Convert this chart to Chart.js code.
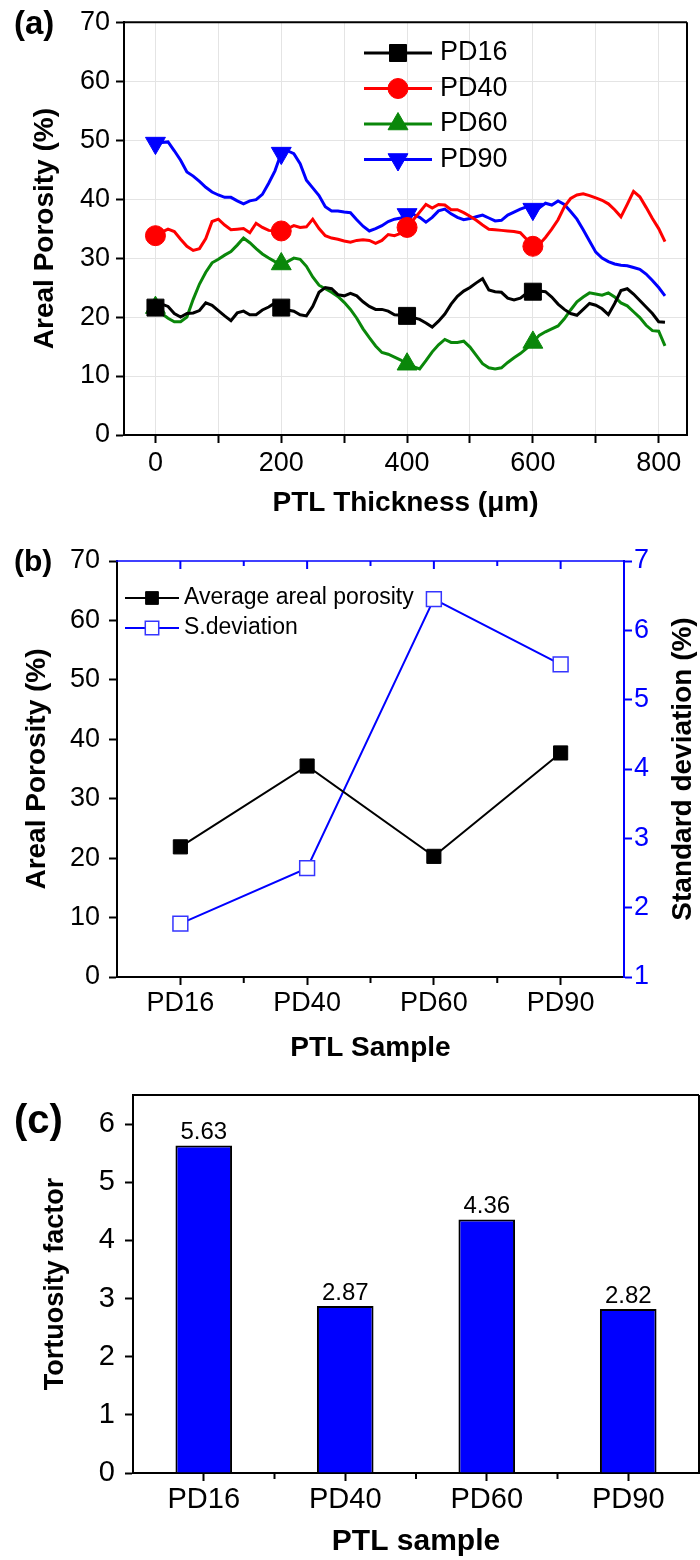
<!DOCTYPE html>
<html>
<head>
<meta charset="utf-8">
<script src="https://cdn.jsdelivr.net/npm/chart.js@4.4.1/dist/chart.umd.min.js"></script>
<style>
  html, body { margin: 0; padding: 0; background: #fff; }
  canvas { display: block; }
</style>
</head>
<body>
<canvas id="porosity" width="700" height="520"></canvas>
<canvas id="average" width="700" height="545"></canvas>
<canvas id="tortuosity" width="700" height="495"></canvas>
<script>
// ---- data ----
const thickness = [
    0, 10, 20, 30, 40, 50, 60, 70, 80, 90,
    100, 110, 120, 130, 140, 150, 160, 170, 180, 190,
    200, 210, 220, 230, 240, 250, 260, 270, 280, 290,
    300, 310, 320, 330, 340, 350, 360, 370, 380, 390,
    400, 410, 420, 430, 440, 450, 460, 470, 480, 490,
    500, 510, 520, 530, 540, 550, 560, 570, 580, 590,
    600, 610, 620, 630, 640, 650, 660, 670, 680, 690,
    700, 710, 720, 730, 740, 750, 760, 770, 780, 790,
    800, 810
];
const markerAt = [0, 200, 400, 600];
const thicknessTicks = [0, 100, 200, 300, 400, 500, 600, 700, 800];

const pd16 = [
    21.6, 22.2, 21.8, 20.6, 20.0, 20.6, 20.7, 21.1, 22.4, 22.0,
    21.1, 20.2, 19.4, 20.7, 21.0, 20.4, 20.4, 21.2, 21.7, 22.4,
    21.6, 21.2, 21.0, 20.4, 20.2, 21.8, 24.2, 25.0, 24.8, 23.8,
    23.6, 24.0, 23.6, 22.6, 21.8, 21.3, 21.3, 21.0, 20.4, 20.3,
    20.2, 19.9, 19.6, 19.0, 18.3, 19.3, 20.5, 22.2, 23.5, 24.4,
    25.0, 25.8, 26.5, 24.6, 24.3, 24.2, 23.2, 22.9, 23.2, 24.0,
    24.3, 24.4, 24.3, 23.4, 22.2, 21.3, 20.6, 20.3, 21.3, 22.3,
    22.0, 21.4, 20.4, 22.3, 24.5, 24.8, 23.9, 22.8, 21.7, 20.6,
    19.2, 19.1
];
const pd40 = [
    33.8, 34.4, 34.9, 34.5, 33.2, 32.0, 31.3, 31.6, 33.3, 36.2,
    36.6, 35.6, 34.8, 34.9, 35.0, 34.3, 35.9, 35.2, 34.7, 34.6,
    34.6, 35.0, 35.5, 35.2, 35.3, 36.6, 35.0, 33.8, 33.4, 33.2,
    32.9, 32.7, 33.0, 33.1, 33.0, 32.5, 33.0, 34.0, 33.8, 34.2,
    35.2, 36.5, 37.8, 39.1, 38.5, 39.1, 39.0, 38.2, 38.2, 37.7,
    37.1, 36.4, 35.6, 34.9, 34.8, 34.7, 34.6, 34.5, 34.3, 33.2,
    32.0, 32.3, 33.5, 34.9, 36.5, 38.7, 40.1, 40.7, 40.9, 40.6,
    40.2, 39.8, 39.2, 38.2, 37.0, 39.1, 41.3, 40.4, 38.6, 36.7,
    35.0, 32.8
];
const pd60 = [
    21.6, 20.6, 19.8, 19.2, 19.2, 20.0, 23.0, 25.6, 27.6, 29.2,
    29.8, 30.5, 31.1, 32.2, 33.4, 32.6, 31.6, 30.7, 30.0, 29.4,
    29.0, 29.4, 30.0, 29.8, 28.6, 26.8, 25.4, 24.8, 24.2, 23.5,
    22.5, 21.3, 19.8, 18.0, 16.5, 15.1, 14.0, 13.7, 13.2, 12.7,
    12.0, 11.6, 11.2, 12.6, 14.1, 15.3, 16.2, 15.7, 15.7, 15.9,
    14.9, 13.5, 12.1, 11.4, 11.2, 11.4, 12.3, 13.1, 13.8, 14.7,
    15.7, 16.9, 17.5, 18.0, 18.5, 19.7, 21.2, 22.6, 23.4, 24.1,
    23.9, 23.7, 24.1, 23.4, 22.4, 21.9, 20.9, 19.9, 18.6, 17.7,
    17.6, 15.1
];
const pd90 = [
    49.5, 49.6, 49.7, 48.2, 46.6, 44.6, 43.9, 43.0, 42.0, 41.2,
    40.7, 40.3, 40.3, 39.7, 39.2, 39.7, 39.9, 40.8, 42.7, 44.8,
    47.8, 48.2, 47.7, 46.0, 43.2, 41.9, 40.6, 38.7, 38.0, 38.0,
    37.8, 37.7, 36.5, 35.4, 34.6, 35.0, 35.5, 36.2, 36.6, 36.8,
    37.4, 37.4, 36.9, 36.1, 36.9, 38.0, 38.3, 37.5, 36.9, 36.5,
    36.7, 37.0, 37.3, 36.8, 36.3, 36.4, 37.3, 37.8, 38.3, 38.7,
    38.3, 38.5, 39.3, 39.0, 39.7, 39.1, 37.9, 36.6, 34.8, 32.9,
    31.0, 30.0, 29.4, 29.0, 28.8, 28.7, 28.4, 28.1, 27.3, 26.2,
    25.0, 23.6
];

const samples = ["PD16", "PD40", "PD60", "PD90"];
const avgPorosity = [21.9, 35.5, 20.3, 37.7];
const stdDeviation = [1.77, 2.57, 6.45, 5.51];
const tortuosity = [5.63, 2.87, 4.36, 2.82];

// ---- common stuff ----
const FONT = "'Liberation Sans', Arial, Helvetica, sans-serif";
Chart.defaults.font.family = FONT;
Chart.defaults.color = "#000";
Chart.defaults.animation = false;

function marker(ctx, ds, radius, x, y) {
    ctx.fillStyle = ds.pointBackgroundColor;
    ctx.strokeStyle = ds.pointBorderColor;
    ctx.lineWidth = ds.pointBorderWidth;
    Chart.helpers.drawPoint(ctx, {
        pointStyle: ds.pointStyle,
        rotation: ds.pointRotation || 0,
        radius: radius,
        borderWidth: ds.pointBorderWidth
    }, x, y);
}

// legend drawn inside the plot, one row per dataset
function legendPlugin(o) {
    return {
        id: "insideLegend",
        afterDraw(chart) {
            const ctx = chart.ctx;
            ctx.save();
            chart.data.datasets.forEach((ds, i) => {
                const y = o.y + i * o.dy;
                ctx.strokeStyle = ds.borderColor;
                ctx.lineWidth = ds.borderWidth;
                ctx.beginPath();
                ctx.moveTo(o.x, y);
                ctx.lineTo(o.x + o.len, y);
                ctx.stroke();
                marker(ctx, ds, o.radius[i], o.x + o.len / 2, y);
                ctx.fillStyle = "#000";
                ctx.font = o.font;
                ctx.textAlign = "left";
                ctx.textBaseline = "middle";
                ctx.fillText(ds.label, o.textX, y);
            });
            ctx.restore();
        }
    };
}

// top / right frame lines, minor ticks between categories, panel letter
function framePlugin(o) {
    return {
        id: "frame",
        afterDraw(chart) {
            const ctx = chart.ctx;
            const a = chart.chartArea;
            ctx.save();
            ctx.lineWidth = o.topWidth || 2;
            ctx.strokeStyle = o.top;
            ctx.beginPath();
            ctx.moveTo(a.left - 1, a.top);
            ctx.lineTo(a.right, a.top);
            ctx.stroke();
            if (o.right) {
                ctx.lineWidth = 2;
                ctx.strokeStyle = o.right;
                ctx.beginPath();
                ctx.moveTo(a.right, a.top);
                ctx.lineTo(a.right, a.bottom);
                ctx.stroke();
            }
            if (o.catMinor) {
                const xs = chart.scales.x;
                const n = chart.data.labels.length;
                ctx.lineWidth = 2;
                ctx.strokeStyle = "#000";
                for (let i = 1; i < n; i++) {
                    const px = xs.getPixelForValue(i - 0.5);
                    ctx.beginPath();
                    ctx.moveTo(px, a.bottom);
                    ctx.lineTo(px, a.bottom + 6);
                    ctx.stroke();
                }
                if (o.topTicks) {
                    ctx.strokeStyle = o.top;
                    for (let i = 0; i < n; i++) {
                        const pc = xs.getPixelForValue(i);
                        ctx.beginPath();
                        ctx.moveTo(pc, a.top);
                        ctx.lineTo(pc, a.top + 8);
                        ctx.stroke();
                    }
                    for (let i = 1; i < n; i++) {
                        const pm = xs.getPixelForValue(i - 0.5);
                        ctx.beginPath();
                        ctx.moveTo(pm, a.top);
                        ctx.lineTo(pm, a.top + 5);
                        ctx.stroke();
                    }
                }
            }
            ctx.fillStyle = "#000";
            ctx.font = "bold " + o.letterSize + "px " + FONT;
            ctx.textAlign = "left";
            ctx.textBaseline = "middle";
            ctx.fillText(o.letter, o.letterX, o.letterY);
            ctx.restore();
        }
    };
}

// ---- (a) areal porosity through the thickness ----
function series(label, values, color, style, radius, rotation) {
    return {
        label: label,
        data: values.map((v, i) => ({ x: thickness[i], y: v })),
        borderColor: color,
        backgroundColor: color,
        borderWidth: 3,
        pointStyle: style,
        pointRotation: rotation,
        pointRadius: c => markerAt.includes(thickness[c.dataIndex]) ? radius : 0,
        pointBackgroundColor: color,
        pointBorderColor: color,
        pointBorderWidth: 1,
        tension: 0,
        fill: false
    };
}

new Chart(document.getElementById("porosity"), {
    type: "line",
    data: {
        datasets: [
            series("PD16", pd16, "#000000", "rect", 12, 0),
            series("PD40", pd40, "#ff0000", "circle", 10, 0),
            series("PD60", pd60, "#0a870a", "triangle", 11.5, 0),
            series("PD90", pd90, "#0000ff", "triangle", 11.5, 180)
        ]
    },
    options: {
        responsive: false,
        layout: { padding: { top: 20, right: 1, left: 0, bottom: 0 } },
        plugins: { legend: { display: false }, tooltip: { enabled: false } },
        scales: {
            x: {
                type: "linear",
                min: -50,
                max: 845,
                afterBuildTicks: s => { s.ticks = thicknessTicks.map(v => ({ value: v })); },
                afterFit: s => { s.height = 85; },
                ticks: {
                    padding: 4,
                    autoSkip: false,
                    maxRotation: 0,
                    font: { size: 27 },
                    callback: v => (v % 200 === 0 ? String(v) : "")
                },
                grid: { color: "#e4e4e4", tickColor: "#000", tickLength: 8, tickWidth: 2 },
                border: { color: "#000", width: 2 },
                title: {
                    display: true,
                    text: "PTL Thickness (μm)",
                    font: { size: 28, weight: "bold" },
                    padding: { top: 0, bottom: 0 }
                }
            },
            y: {
                min: 0,
                max: 70,
                afterFit: s => { s.width = 124; },
                ticks: {
                    stepSize: 5,
                    padding: 6,
                    font: { size: 27 },
                    callback: v => (v % 10 === 0 ? v : "")
                },
                grid: {
                    color: c => (c.tick && c.tick.value % 10 === 0 ? "#e4e4e4" : "rgba(0,0,0,0)"),
                    tickColor: "#000",
                    tickLength: 8,
                    tickWidth: 2
                },
                border: { color: "#000", width: 2 },
                title: {
                    display: true,
                    text: "Areal Porosity (%)",
                    font: { size: 28, weight: "bold" },
                    padding: { top: 28, bottom: 0 }
                }
            }
        }
    },
    plugins: [
        framePlugin({ top: "#000", right: "#000", letter: "(a)", letterSize: 33, letterX: 14, letterY: 25 }),
        legendPlugin({ x: 364, len: 68, textX: 440, y: 53, dy: 35.5, font: "27px " + FONT, radius: [12, 10, 11.5, 11.5] })
    ]
});

// ---- (b) average porosity and standard deviation ----
const rightTitle = {
    id: "rightTitle",
    afterDraw(chart) {
        const ctx = chart.ctx;
        const a = chart.chartArea;
        ctx.save();
        ctx.translate(683, (a.top + a.bottom) / 2);
        ctx.rotate(-Math.PI / 2);
        ctx.fillStyle = "#000";
        ctx.font = "bold 28px " + FONT;
        ctx.textAlign = "center";
        ctx.textBaseline = "middle";
        ctx.fillText("Standard deviation (%)", 0, 0);
        ctx.restore();
    }
};

new Chart(document.getElementById("average"), {
    type: "line",
    data: {
        labels: samples,
        datasets: [
            {
                label: "Average areal porosity",
                data: avgPorosity,
                yAxisID: "y",
                borderColor: "#000000",
                borderWidth: 2,
                pointStyle: "rect",
                pointRadius: 10,
                pointBackgroundColor: "#000000",
                pointBorderColor: "#000000",
                pointBorderWidth: 1,
                tension: 0
            },
            {
                label: "S.deviation",
                data: stdDeviation,
                yAxisID: "y2",
                borderColor: "#0000ff",
                borderWidth: 2,
                pointStyle: "rect",
                pointRadius: 10.5,
                pointBackgroundColor: "#ffffff",
                pointBorderColor: "#3535ff",
                pointBorderWidth: 1.5,
                tension: 0
            }
        ]
    },
    options: {
        responsive: false,
        layout: { padding: { top: 41, right: 0, left: 0, bottom: 0 } },
        plugins: { legend: { display: false }, tooltip: { enabled: false } },
        scales: {
            x: {
                type: "category",
                offset: true,
                afterFit: s => { s.height = 88; },
                ticks: { padding: 2, font: { size: 27 }, maxRotation: 0 },
                grid: { drawOnChartArea: false, offset: false, tickColor: "#000", tickLength: 8, tickWidth: 2 },
                border: { color: "#000", width: 2 },
                title: {
                    display: true,
                    text: "PTL Sample",
                    font: { size: 28, weight: "bold" },
                    padding: { top: 0, bottom: 0 }
                }
            },
            y: {
                position: "left",
                min: 0,
                max: 70,
                afterFit: s => { s.width = 117; },
                ticks: { stepSize: 5, padding: 9, font: { size: 27 }, callback: v => (v % 10 === 0 ? v : "") },
                grid: { drawOnChartArea: false, tickColor: "#000", tickLength: 8, tickWidth: 2 },
                border: { color: "#000", width: 2 },
                title: {
                    display: true,
                    text: "Areal Porosity (%)",
                    font: { size: 28, weight: "bold" },
                    padding: { top: 20, bottom: 0 }
                }
            },
            y2: {
                position: "right",
                min: 1,
                max: 7,
                afterFit: s => { s.width = 76; },
                ticks: {
                    stepSize: 0.5,
                    padding: 2,
                    color: "#0000ff",
                    font: { size: 27 },
                    callback: v => (Number.isInteger(v) ? v : "")
                },
                grid: { drawOnChartArea: false, tickColor: "#0000ff", tickLength: 8, tickWidth: 2 },
                border: { color: "#0000ff", width: 2 },
                title: { display: false }
            }
        }
    },
    plugins: [
        framePlugin({ top: "#0000ff", topWidth: 1.5, right: null, catMinor: true, topTicks: true,
                      letter: "(b)", letterSize: 30, letterX: 14, letterY: 43 }),
        legendPlugin({ x: 125, len: 54, textX: 184, y: 78, dy: 30, font: "23px " + FONT, radius: [9, 9.5] }),
        rightTitle
    ]
});

// ---- (c) tortuosity factor ----
const barValues = {
    id: "barValues",
    afterDatasetsDraw(chart) {
        const ctx = chart.ctx;
        const meta = chart.getDatasetMeta(0);
        ctx.save();
        ctx.fillStyle = "#000";
        ctx.font = "24px " + FONT;
        ctx.textAlign = "center";
        ctx.textBaseline = "bottom";
        meta.data.forEach((bar, i) => {
            ctx.fillText(tortuosity[i].toFixed(2), bar.x, bar.y - 1);
        });
        ctx.restore();
    }
};

new Chart(document.getElementById("tortuosity"), {
    type: "bar",
    data: {
        labels: samples,
        datasets: [{
            label: "Tortuosity factor",
            data: tortuosity,
            backgroundColor: "#0000ff",
            borderColor: "#000000",
            borderWidth: 2,
            barPercentage: 0.4,
            categoryPercentage: 1
        }]
    },
    options: {
        responsive: false,
        layout: { padding: { top: 30, right: 1, left: 0, bottom: 0 } },
        plugins: { legend: { display: false }, tooltip: { enabled: false } },
        scales: {
            x: {
                afterFit: s => { s.height = 87; },
                ticks: { padding: 2, font: { size: 29 }, maxRotation: 0 },
                grid: { drawOnChartArea: false, offset: false, tickColor: "#000", tickLength: 8, tickWidth: 2 },
                border: { color: "#000", width: 2 },
                title: {
                    display: true,
                    text: "PTL sample",
                    font: { size: 30, weight: "bold" },
                    padding: { top: 0, bottom: 0 }
                }
            },
            y: {
                min: 0,
                max: 6.5,
                afterFit: s => { s.width = 133; },
                afterBuildTicks: s => { s.ticks = s.ticks.filter(t => t.value < 6.4); },
                ticks: { stepSize: 0.5, padding: 10, font: { size: 29 }, callback: v => (Number.isInteger(v) ? v : "") },
                grid: { drawOnChartArea: false, tickColor: "#000", tickLength: 8, tickWidth: 2 },
                border: { color: "#000", width: 2 },
                title: {
                    display: true,
                    text: "Tortuosity factor",
                    font: { size: 27, weight: "bold" },
                    padding: { top: 39, bottom: 0 }
                }
            }
        }
    },
    plugins: [
        framePlugin({ top: "#000", right: "#000", catMinor: true, letter: "(c)", letterSize: 40, letterX: 14, letterY: 57 }),
        barValues
    ]
});
</script>
</body>
</html>
